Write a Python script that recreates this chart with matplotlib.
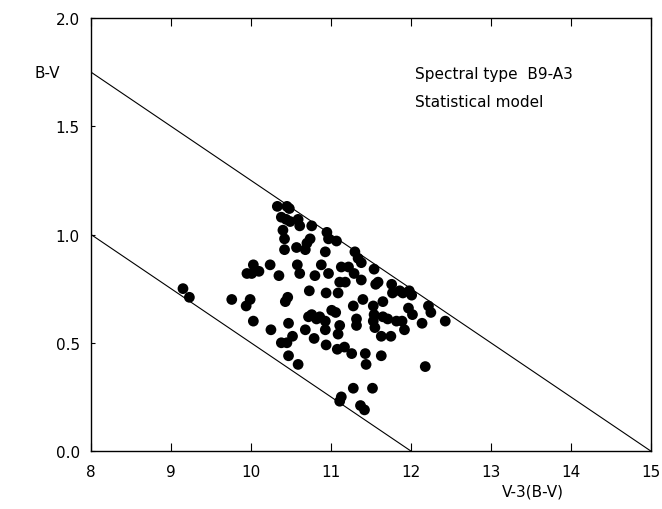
import matplotlib
matplotlib.use("Agg")
import matplotlib.pyplot as plt

# star colours: V-3(B-V) vs B-V
x_vals = [
    9.15, 9.23, 9.76, 9.99, 9.94, 10.03, 9.95, 10.01, 10.10, 10.24,
    10.35, 10.33, 10.45, 10.48, 10.38, 10.44, 10.49, 10.59, 10.61, 10.76,
    10.40, 10.42, 10.74, 10.70, 10.68, 10.42, 10.57, 10.58, 10.61, 10.80,
    10.46, 10.43, 10.73, 10.03, 10.25, 10.47, 10.68, 10.72, 10.76, 10.38,
    10.45, 10.52, 10.79, 10.47, 10.59, 10.95, 10.97, 11.07, 10.93, 10.88,
    10.97, 11.30, 11.34, 11.38, 11.13, 11.22, 11.29, 11.38, 11.54, 11.11,
    11.18, 11.56, 11.59, 11.76, 11.77, 11.86, 11.90, 11.98, 12.01, 10.94,
    11.09, 11.40, 11.28, 11.65, 12.22, 10.82, 10.86, 10.93, 11.01, 11.06,
    11.53, 11.54, 11.97, 12.02, 12.25, 11.32, 11.32, 11.11, 11.09, 10.93,
    11.53, 11.55, 11.65, 11.71, 11.82, 11.89, 11.92, 12.14, 12.43, 11.63,
    11.75, 10.94, 11.08, 11.17, 11.26, 11.43, 11.44, 11.63, 12.18, 11.28,
    11.52, 11.13, 11.11, 11.37, 11.42,
]
y_vals = [
    0.75, 0.71, 0.70, 0.70, 0.67, 0.86, 0.82, 0.82, 0.83, 0.86,
    0.81, 1.13, 1.13, 1.12, 1.08, 1.07, 1.06, 1.07, 1.04, 1.04,
    1.02, 0.98, 0.98, 0.96, 0.93, 0.93, 0.94, 0.86, 0.82, 0.81,
    0.71, 0.69, 0.74, 0.60, 0.56, 0.59, 0.56, 0.62, 0.63, 0.50,
    0.50, 0.53, 0.52, 0.44, 0.40, 1.01, 0.98, 0.97, 0.92, 0.86,
    0.82, 0.92, 0.89, 0.87, 0.85, 0.85, 0.82, 0.79, 0.84, 0.78,
    0.78, 0.77, 0.78, 0.77, 0.73, 0.74, 0.73, 0.74, 0.72, 0.73,
    0.73, 0.70, 0.67, 0.69, 0.67, 0.61, 0.62, 0.60, 0.65, 0.64,
    0.67, 0.63, 0.66, 0.63, 0.64, 0.61, 0.58, 0.58, 0.54, 0.56,
    0.60, 0.57, 0.62, 0.61, 0.60, 0.60, 0.56, 0.59, 0.60, 0.53,
    0.53, 0.49, 0.47, 0.48, 0.45, 0.45, 0.40, 0.44, 0.39, 0.29,
    0.29, 0.25, 0.23, 0.21, 0.19,
]

# limit lines of the statistical model
upper_x = [8, 15]
upper_y = [1.75, 0.0]
lower_x = [8, 12]
lower_y = [1.0, 0.0]

x_ticks = [8, 9, 10, 11, 12, 13, 14, 15]
y_ticks = [0.0, 0.5, 1.0, 1.5, 2.0]

fig = plt.figure(figsize=(6.62, 5.10), dpi=100)
ax = fig.add_axes([0.1375, 0.1137, 0.8455, 0.849])

ax.plot(upper_x, upper_y, color="black", linewidth=0.8)
ax.plot(lower_x, lower_y, color="black", linewidth=0.8)
ax.scatter(x_vals, y_vals, s=60, color="black", edgecolors="none", zorder=3)

ax.set_xlim(8, 15)
ax.set_ylim(0, 2)
ax.set_xticks(x_ticks)
ax.set_xticklabels([str(t) for t in x_ticks])
ax.set_yticks(y_ticks)
ax.set_yticklabels([f"{t:.1f}" for t in y_ticks])
ax.tick_params(axis="x", direction="in", top=True, length=6, labelsize=11, pad=9)
ax.tick_params(axis="y", direction="in", length=3, labelsize=11, pad=8)
for sp in ax.spines.values():
    sp.set_linewidth(1.0)

fig.text(35 / 662, 1 - 74 / 510, "B-V", fontsize=11, ha="left", va="center")
fig.text(533 / 662, 1 - 492 / 510, "V-3(B-V)", fontsize=11, ha="center", va="center")
fig.text(415 / 662, 1 - 74 / 510, "Spectral type  B9-A3", fontsize=11, ha="left", va="center")
fig.text(415 / 662, 1 - 103 / 510, "Statistical model", fontsize=11, ha="left", va="center")

fig.savefig("out.png", dpi=100)
